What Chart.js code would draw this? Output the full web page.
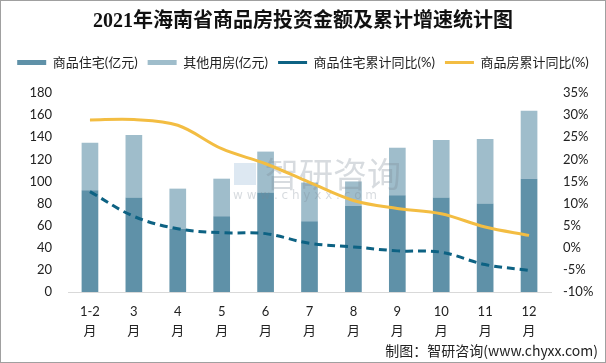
<!DOCTYPE html>
<html>
<head>
<meta charset="utf-8">
<script src="https://cdn.jsdelivr.net/npm/chart.js@4"></script>
<style>
  html, body { margin: 0; padding: 0; background: #fff; }
  #wrap { width: 606px; height: 363px; position: relative; }
</style>
</head>
<body>
<div id="wrap"><canvas id="chart" width="606" height="363"></canvas></div>
<script>
// Data
const months = ["1-2", "3", "4", "5", "6", "7", "8", "9", "10", "11", "12"];
const residential = [92, 85.5, 57, 68.5, 90, 64, 78, 87.5, 85.5, 80, 102.5];   // 商品住宅(亿元)
const otherUse = [43, 56.5, 36.5, 34, 37, 35, 22, 43, 52, 58.5, 61.5];           // 其他用房(亿元)
const residentialGrowth = [12.7, 7.1, 4.3, 3.4, 3.2, 1.0, 0.2, -0.7, -1.0, -3.8, -5.1]; // 商品住宅累计同比(%)
const totalGrowth = [28.9, 29.0, 27.7, 22.4, 19.0, 14.8, 10.7, 8.9, 7.7, 4.7, 2.8];     // 商品房累计同比(%)

const leftTicks = [0, 20, 40, 60, 80, 100, 120, 140, 160, 180];
const rightTicks = [-10, -5, 0, 5, 10, 15, 20, 25, 30, 35];

const FONT = "Lato, 'Noto Sans CJK SC', sans-serif";

// Watermark, frame and source note
const decorPlugin = {
  id: "decor",
  afterInit(chart) {
    // leave some room under the legend row
    const fit = chart.legend.fit;
    chart.legend.fit = function () {
      fit.call(this);
      this.height += 14;
    };
  },
  afterDatasetDraw(chart, args) {
    if (args.index !== 0) return;
    const ctx = chart.ctx;
    ctx.save();
    ctx.globalAlpha = 0.3;
    ctx.fillStyle = "#7a8796";
    ctx.font = "34px 'Noto Sans CJK SC', sans-serif";
    ctx.textBaseline = "middle";
    ctx.fillText("智研咨询", 265, 174);
    ctx.font = "12px 'DejaVu Sans', sans-serif";
    ctx.fillText("w w w . c h y x x . c o m", 233, 196);
    ctx.fillStyle = "#8fb2d4";
    ctx.fillRect(234, 163, 22, 22);
    ctx.restore();
  },
  afterDraw(chart) {
    const ctx = chart.ctx;
    ctx.save();
    ctx.fillStyle = "#222";
    ctx.font = "14px 'Noto Sans CJK SC', sans-serif";
    ctx.textAlign = "right";
    ctx.textBaseline = "middle";
    ctx.fillText("制图：智研咨询(www.chyxx.com)", 598, 351);
    ctx.strokeStyle = "#a0a0a0";
    ctx.lineWidth = 1;
    ctx.strokeRect(0.5, 0.5, 605, 362);
    ctx.restore();
  }
};

new Chart(document.getElementById("chart"), {
  type: "bar",
  data: {
    labels: months.map((m) => [m, "月"]),
    datasets: [
      {
        label: "商品住宅(亿元)",
        data: residential,
        backgroundColor: "#5f91a8",
        yAxisID: "y",
        order: 2,
        pointStyle: "rect",
        barPercentage: 0.76,
        categoryPercentage: 0.5
      },
      {
        label: "其他用房(亿元)",
        data: otherUse,
        backgroundColor: "#9fbdcb",
        yAxisID: "y",
        order: 2,
        pointStyle: "rect",
        barPercentage: 0.76,
        categoryPercentage: 0.5
      },
      {
        type: "line",
        label: "商品住宅累计同比(%)",
        data: residentialGrowth,
        borderColor: "#0d6283",
        backgroundColor: "#0d6283",
        borderWidth: 3,
        borderDash: [8, 5],
        pointRadius: 0,
        pointStyle: "line",
        tension: 0.35,
        yAxisID: "y1",
        order: 1
      },
      {
        type: "line",
        label: "商品房累计同比(%)",
        data: totalGrowth,
        borderColor: "#f3bd42",
        backgroundColor: "#f3bd42",
        borderWidth: 3,
        pointRadius: 0,
        pointStyle: "line",
        tension: 0.35,
        yAxisID: "y1",
        order: 1
      }
    ]
  },
  options: {
    responsive: false,
    animation: false,
    layout: { padding: { left: 0, right: 0, top: 0, bottom: 21 } },
    plugins: {
      title: {
        display: true,
        text: "2021年海南省商品房投资金额及累计增速统计图",
        color: "#111",
        font: { family: "'Liberation Serif', 'Noto Sans CJK SC', serif", size: 20, weight: "bold" },
        padding: { top: 10, bottom: 12 }
      },
      legend: {
        labels: {
          usePointStyle: true,
          pointStyleWidth: 29,
          boxWidth: 29,
          boxHeight: 5,
          padding: 10,
          color: "#222",
          font: { family: FONT, size: 13 },
          sort: (a, b) => a.datasetIndex - b.datasetIndex
        }
      },
      tooltip: { enabled: false }
    },
    scales: {
      x: {
        stacked: true,
        grid: { display: false, drawTicks: false },
        border: { display: true, color: "#d9d9d9" },
        ticks: {
          color: "#222",
          maxRotation: 0,
          autoSkip: false,
          padding: 10,
          font: { family: FONT, size: 13, lineHeight: 1.5 }
        },
        afterFit(axis) { axis.height = 50; }
      },
      y: {
        stacked: true,
        position: "left",
        min: 0,
        max: 180,
        grid: { display: false, drawTicks: false },
        border: { display: false },
        afterBuildTicks(axis) { axis.ticks = leftTicks.map((v) => ({ value: v })); },
        ticks: { color: "#222", padding: 16, font: { family: FONT, size: 13 } },
        afterFit(axis) { axis.width = 68; }
      },
      y1: {
        position: "right",
        min: -10,
        max: 35,
        grid: { display: false, drawTicks: false },
        border: { display: false },
        afterBuildTicks(axis) { axis.ticks = rightTicks.map((v) => ({ value: v })); },
        ticks: {
          color: "#222",
          padding: 12,
          font: { family: FONT, size: 13 },
          callback: (v) => v + "%"
        },
        afterFit(axis) { axis.width = 55; }
      }
    }
  },
  plugins: [decorPlugin]
});
</script>
</body>
</html>
